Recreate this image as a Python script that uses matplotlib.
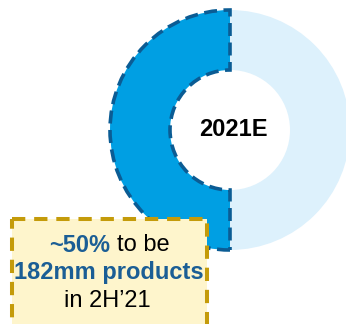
import matplotlib
matplotlib.use("Agg")
from matplotlib import pyplot as plt
from matplotlib.patches import Rectangle

plt.rcParams['font.family'] = ['Liberation Sans', 'DejaVu Sans']

# share of 182mm products in 2H'21 (blue) vs rest
shares = [50, 50]
colors = ['#009FE3', '#DDF1FC']
center_label = '2021E'
note_bold = '~50%'
note_rest = 'to be'
note_line2 = '182mm products'
note_line3 = 'in 2H\u201921'

blue_txt = '#1B5E95'
dash_blue = '#0B5C94'

fig = plt.figure(figsize=(3.46, 3.24), dpi=100)
ax = fig.add_axes([0, 0, 1, 1])

# pixel-like coordinates, y going down
cx, cy, r = 230, 130, 120
wedges, _ = ax.pie(shares, colors=colors, startangle=90, counterclock=True,
                   radius=r, center=(cx, cy),
                   wedgeprops=dict(width=r * 0.5, linewidth=0))
w = wedges[0]
w.set_edgecolor(dash_blue)
w.set_linewidth(2.6)
w.set_linestyle((0, (3.6, 1.8)))
w.set_zorder(3)

ax.text(cx + 3, cy, center_label, ha='center', va='center',
        fontsize=17, fontweight='bold', color='black', zorder=5)

box = Rectangle((12, 219), 195, 120, facecolor='#FEF5CC', edgecolor='#C49B0A',
                linewidth=2.9, linestyle=(0, (3.3, 2.2)), zorder=6)
ax.add_patch(box)

ax.text(110, 245, note_bold, ha='right', va='center', fontsize=17,
        fontweight='bold', color=blue_txt, zorder=7)
ax.text(117, 245, note_rest, ha='left', va='center', fontsize=17,
        color='black', zorder=7)
ax.text(109, 273, note_line2, ha='center', va='center', fontsize=17,
        fontweight='bold', color=blue_txt, zorder=7)
ax.text(107, 301, note_line3, ha='center', va='center', fontsize=17,
        color='black', zorder=7)

ax.set_xlim(0, 346)
ax.set_ylim(324, 0)
ax.set_aspect('equal')
ax.axis('off')

fig.savefig('out.png', dpi=100)
